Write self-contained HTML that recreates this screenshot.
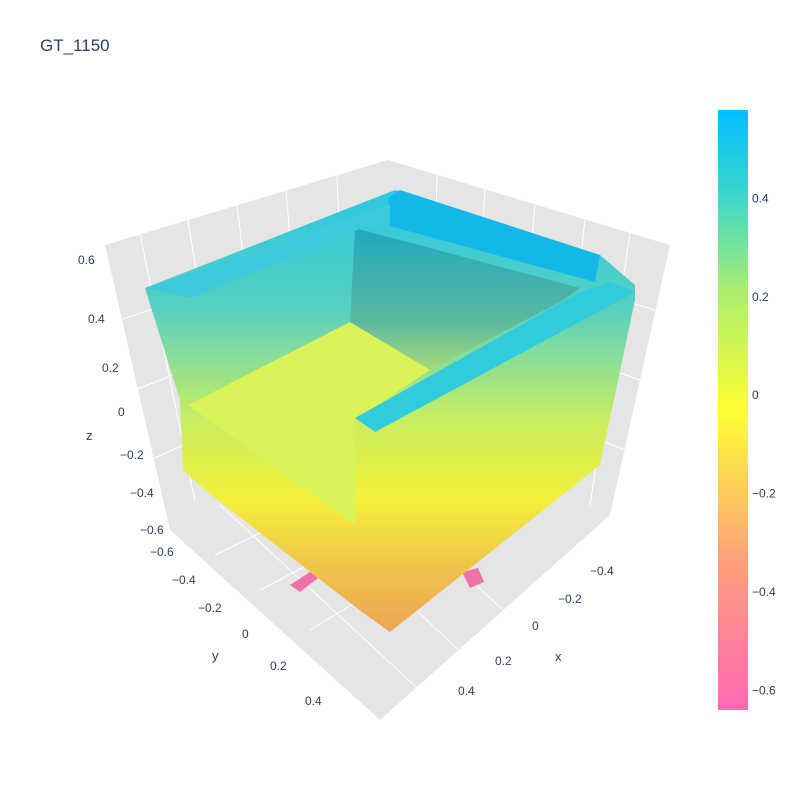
<!DOCTYPE html>
<html><head><meta charset="utf-8"><style>
body{margin:0;background:#fff;font-family:"Liberation Sans",sans-serif}
svg text{font-family:"Liberation Sans",sans-serif;fill:#2a3f5f}
</style></head><body>
<svg width="800" height="800" xmlns="http://www.w3.org/2000/svg">
<defs>
<linearGradient id="body" gradientUnits="userSpaceOnUse" x1="0" y1="200" x2="0" y2="640">
<stop offset="0" stop-color="#2ec8e0"/><stop offset="0.25" stop-color="#58d0c0"/><stop offset="0.5" stop-color="#c8ef60"/><stop offset="0.68" stop-color="#f4f03a"/><stop offset="0.85" stop-color="#f0c04c"/><stop offset="1" stop-color="#eda055"/></linearGradient>
<linearGradient id="back" gradientUnits="userSpaceOnUse" x1="0" y1="230" x2="0" y2="380">
<stop offset="0" stop-color="#22a8c0"/><stop offset="0.6" stop-color="#5ab8a0"/><stop offset="1" stop-color="#b8e070"/></linearGradient>
<linearGradient id="cb" x1="0" y1="1" x2="0" y2="0">
<stop offset="0" stop-color="#ff69b4"/><stop offset="0.25" stop-color="#ffa07a"/><stop offset="0.5" stop-color="#ffff33"/><stop offset="0.7" stop-color="#a8ee70"/><stop offset="0.85" stop-color="#40d8c8"/><stop offset="1" stop-color="#00bfff"/></linearGradient>
</defs>
<text x="40" y="51" font-size="17">GT_1150</text>
<g>
<polygon points="105,245 388,160 388,420 170,530" fill="#e5e5e5"/>
<polygon points="388,160 670,245 610,515 388,420" fill="#e5e5e5"/>
<polygon points="170,530 388,420 610,515 380,720" fill="#e5e5e5"/>
<g stroke="#fff" stroke-width="1">
<line x1="140" y1="234" x2="195" y2="501"/><line x1="188" y1="220" x2="230" y2="483"/><line x1="237" y1="205" x2="268" y2="464"/><line x1="286" y1="190" x2="307" y2="444"/><line x1="337" y1="175" x2="347" y2="432"/>
<line x1="437" y1="175" x2="430" y2="438"/><line x1="485" y1="189" x2="470" y2="455"/><line x1="535" y1="204" x2="512" y2="472"/><line x1="585" y1="219" x2="555" y2="492"/><line x1="630" y1="233" x2="590" y2="506"/>
<line x1="120" y1="320" x2="388" y2="230"/><line x1="135" y1="390" x2="388" y2="290"/><line x1="150" y1="460" x2="388" y2="355"/>
<line x1="388" y1="230" x2="655" y2="310"/><line x1="388" y1="290" x2="640" y2="380"/><line x1="388" y1="355" x2="625" y2="450"/>
<line x1="215" y1="555" x2="440" y2="445"/><line x1="260" y1="590" x2="490" y2="470"/><line x1="310" y1="630" x2="540" y2="490"/>
<line x1="220" y1="505" x2="430" y2="700"/><line x1="275" y1="478" x2="480" y2="670"/><line x1="330" y1="450" x2="530" y2="635"/>
</g>
<g fill="#f070a8">
<polygon points="290,585 310,572 318,578 300,592"/><polygon points="462,572 478,568 484,582 470,588"/>
</g>
<polygon points="145,288 395,190 600,255 635,285 635,300 600,465 390,632 362,612 205,490 183,470 180,400" fill="url(#body)"/>
<polygon points="355,228 580,288 560,302 430,370 350,322" fill="url(#back)"/>
<polygon points="388,198 400,190 600,255 595,282 390,226" fill="#12b8e8"/>
<polygon points="145,288 390,205 390,222 362,228 190,298" fill="#3ccadc"/>
<polygon points="188,405 350,322 430,370 355,420 355,525" fill="#d8f458"/>
<polygon points="355,418 580,292 610,282 635,292 375,432" fill="#30cbdc"/>
<polygon points="355,418 375,432 390,632 362,612 355,525" fill="url(#body)" opacity="0.9"/>
</g>
<g font-size="12">
<text x="78" y="264">0.6</text><text x="88" y="323">0.4</text><text x="102" y="372">0.2</text><text x="118" y="416">0</text><text x="120" y="459">−0.2</text><text x="130" y="497">−0.4</text><text x="140" y="534">−0.6</text>
</g>
<text x="86" y="440" font-size="13">z</text>
<g font-size="12">
<text x="150" y="556">−0.6</text><text x="172" y="584">−0.4</text><text x="198" y="612">−0.2</text><text x="242" y="638">0</text><text x="270" y="670">0.2</text><text x="305" y="705">0.4</text>
</g>
<text x="212" y="660" font-size="13">y</text>
<g font-size="12">
<text x="590" y="575">−0.4</text><text x="558" y="603">−0.2</text><text x="532" y="630">0</text><text x="495" y="665">0.2</text><text x="458" y="695">0.4</text>
</g>
<text x="555" y="661" font-size="13">x</text>
<rect x="718" y="110" width="30" height="600" fill="url(#cb)"/>
<g id="cbticks" font-size="12"></g>
</svg>
<script>
const cbTicks=[0.4,0.2,0,-0.2,-0.4,-0.6];
const cbMin=-0.64, cbMax=0.58;
const g=document.getElementById('cbticks');
function cbY(v){return 710-(v-cbMin)/(cbMax-cbMin)*600;}
cbTicks.forEach(v=>{
 const t=document.createElementNS('http://www.w3.org/2000/svg','text');
 t.setAttribute('x',752);t.setAttribute('y',cbY(v)+4);
 t.textContent=(v<0?'−':'')+Math.abs(v).toString();
 
 
 g.appendChild(t);
});
</script>
</body></html>
